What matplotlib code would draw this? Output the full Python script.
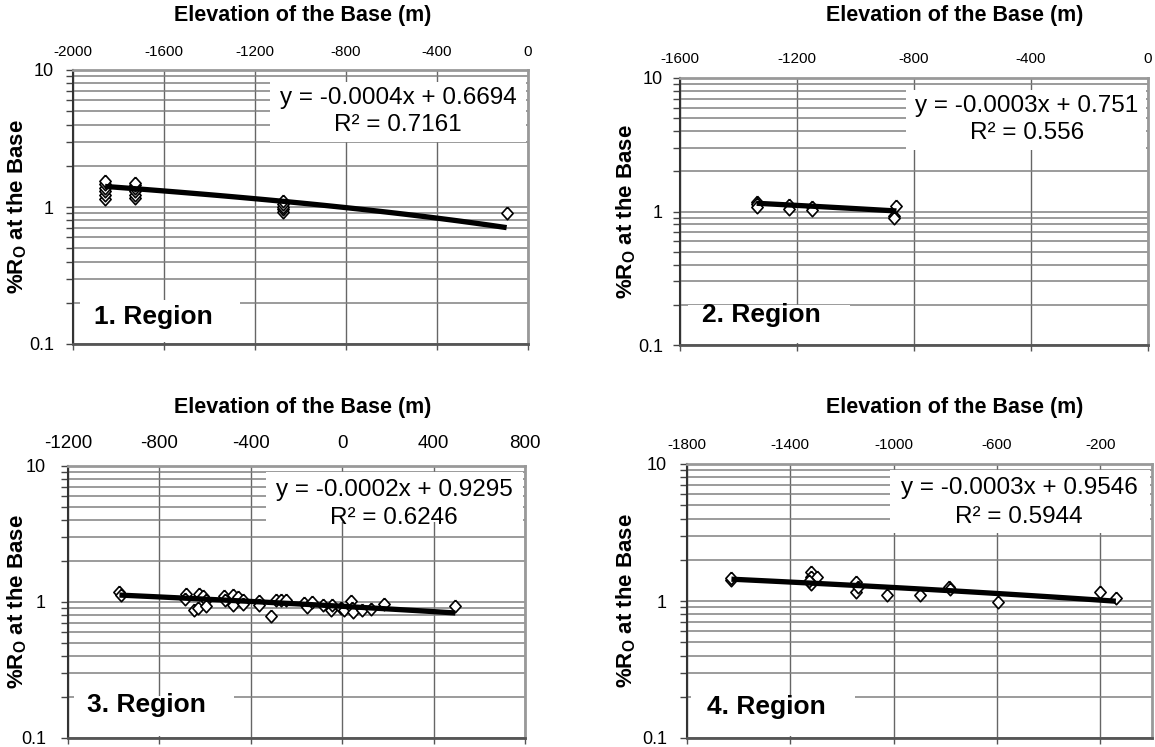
import numpy as np
import matplotlib
matplotlib.use("Agg")
import matplotlib.pyplot as plt
from matplotlib.patches import Rectangle
from matplotlib.ticker import FixedLocator, FixedFormatter, NullFormatter

plt.rcParams['font.family'] = ['Liberation Sans', 'DejaVu Sans']
plt.rcParams['mathtext.fontset'] = 'custom'
plt.rcParams['mathtext.rm'] = 'Liberation Sans'
plt.rcParams['mathtext.bf'] = 'Liberation Sans:bold'

# ---- data ----
r1_elev = [-1859, -1859, -1859, -1859, -1859, -1859,
           -1729, -1729, -1729, -1729, -1729, -1729,
           -1076, -1076, -1076, -1076, -1076, -94]
r1_ro = [1.15, 1.22, 1.30, 1.38, 1.47, 1.55,
         1.17, 1.23, 1.30, 1.37, 1.44, 1.50,
         0.92, 0.96, 1.00, 1.05, 1.10, 0.90]

r2_elev = [-1338, -1338, -1338, -1227, -1227, -1149, -1149, -868, -868, -860]
r2_ro = [1.18, 1.14, 1.09, 1.12, 1.05, 1.09, 1.03, 0.93, 0.90, 1.10]

r3_elev = [-975, -970, -684, -688, -650, -633, -625, -611, -596, -596,
           -519, -513, -480, -476, -458, -436, -436, -364, -364, -313,
           -291, -269, -247, -167, -153, -131, -83, -48, -44, -7,
           7, 39, 44, 48, 87, 127, 182, 495]
r3_ro = [1.18, 1.12, 1.15, 1.06, 0.88, 0.91, 1.15, 1.10, 1.03, 0.93,
         1.10, 1.04, 1.13, 0.945, 1.08, 1.04, 0.96, 1.02, 0.945, 0.785,
         1.03, 1.04, 1.03, 0.98, 0.92, 1.00, 0.945, 0.87, 0.945, 0.91,
         0.87, 1.02, 0.91, 0.845, 0.88, 0.89, 0.97, 0.935]

r4_elev = [-1628, -1628, -1319, -1319, -1319, -1298, -1326, -1147, -1147,
           -1140, -1025, -899, -785, -781, -595, -203, -140]
r4_ro = [1.42, 1.48, 1.62, 1.49, 1.33, 1.49, 1.41, 1.37, 1.16,
         1.26, 1.11, 1.11, 1.27, 1.22, 0.98, 1.16, 1.06]

# trendline equations as printed on the chart
slopes = [-0.0004, -0.0003, -0.0002, -0.0003]
intercepts = [0.6694, 0.751, 0.9295, 0.9546]
r_squared = [0.7161, 0.556, 0.6246, 0.5944]

xticks = [[-2000, -1600, -1200, -800, -400, 0],
          [-1600, -1200, -800, -400, 0],
          [-1200, -800, -400, 0, 400, 800],
          [-1800, -1400, -1000, -600, -200]]
xlims = [(-2000, 0), (-1600, 0), (-1200, 800), (-1800, 0)]
region_names = ["1. Region", "2. Region", "3. Region", "4. Region"]
yticks = [0.1, 1, 10]
ytick_labels = ["0.1", "1", "10"]

elevs = [r1_elev, r2_elev, r3_elev, r4_elev]
ros = [r1_ro, r2_ro, r3_ro, r4_ro]

# ---- layout in pixels ----
W, H = 1155, 747
fig = plt.figure(figsize=(W / 100, H / 100), dpi=100)


def fx(x):
    return x / W


def fy(y):
    return 1 - y / H


panels = [
    dict(ax=(73, 70, 528, 344), tfs=11, xpad=4, ypad=8.6, ylx=17, title=(303, 15),
         eqbox=(270, 82, 526, 142), eq=(398, 98, 125), regbox=(80, 300, 240, 342), reg=(94, 317)),
    dict(ax=(680, 78, 1148, 345), tfs=11, xpad=4.7, ypad=7.2, ylx=626, title=(955, 15),
         eqbox=(906, 90, 1146, 150), eq=(1027, 106, 133), regbox=(688, 305, 850, 343), reg=(702, 315)),
    dict(ax=(68, 466, 525, 738), tfs=13.5, xpad=6, ypad=10.8, ylx=17, title=(303, 408),
         eqbox=(266, 472, 523, 522), eq=(394, 490, 518), regbox=(74, 696, 234, 736), reg=(87, 705)),
    dict(ax=(687, 464, 1152, 738), tfs=11, xpad=4.7, ypad=9.4, ylx=626, title=(955, 408),
         eqbox=(890, 470, 1150, 533), eq=(1019, 488, 517), regbox=(691, 695, 855, 736), reg=(707, 707)),
]

diamond = [(0, 1), (0.9, 0), (0, -1), (-0.9, 0), (0, 1)]

for i, p in enumerate(panels):
    l, t, r, b = p['ax']
    ax = fig.add_axes([fx(l), fy(b), (r - l) / W, (b - t) / H])
    ax.set_yscale('log')
    ax.set_ylim(0.1, 10)
    ax.set_xlim(*xlims[i])
    ax.set_axisbelow(True)

    ax.yaxis.set_major_locator(FixedLocator(yticks))
    ax.yaxis.set_major_formatter(FixedFormatter(ytick_labels))
    ax.yaxis.set_minor_locator(FixedLocator(
        [m * d for d in (0.1, 1) for m in range(2, 10)]))
    ax.yaxis.set_minor_formatter(NullFormatter())
    ax.set_xticks(xticks[i])
    ax.set_xticklabels([str(v) for v in xticks[i]])

    ax.grid(True, which='both', axis='y', color='#808080', lw=1.1)
    ax.grid(True, which='major', axis='x', color='#666666', lw=1.0)

    ax.tick_params(axis='x', which='major', direction='out', length=4, width=1,
                   color='#555555', bottom=True, top=False,
                   labelbottom=False, labeltop=True, labelsize=p['tfs'], pad=p['xpad'])
    ax.tick_params(axis='y', which='both', direction='out', length=5, width=1,
                   color='#444444', labelsize=13, pad=p['ypad'])

    for side, c, w in [('top', '#999999', 2), ('right', '#999999', 2),
                       ('left', '#333333', 1.5), ('bottom', '#555555', 2)]:
        ax.spines[side].set_color(c)
        ax.spines[side].set_linewidth(w)

    # white boxes behind the annotations
    for bl, bt, br, bb in (p['eqbox'], p['regbox']):
        ax.add_patch(Rectangle((fx(bl), fy(bb)), (br - bl) / W, (bb - bt) / H,
                               transform=fig.transFigure, facecolor='white',
                               edgecolor='none', zorder=1))

    # data and trendline
    ax.plot(elevs[i], ros[i], linestyle='none', marker=diamond, markersize=9,
            markerfacecolor='white', markeredgecolor='black', markeredgewidth=1.2,
            zorder=3)
    xs = np.linspace(min(elevs[i]), max(elevs[i]), 60)
    ax.plot(xs, slopes[i] * xs + intercepts[i], color='black', lw=3.8,
            solid_capstyle='butt', zorder=4)

    ex, ey1, ey2 = p['eq']
    ax.text(fx(ex), fy(ey1), f"y = {slopes[i]}x + {intercepts[i]}", transform=fig.transFigure,
            ha='center', va='center', fontsize=17.5, zorder=5)
    ax.text(fx(ex), fy(ey2), f"R² = {r_squared[i]}", transform=fig.transFigure,
            ha='center', va='center', fontsize=17.5, zorder=5)
    rx, ry = p['reg']
    ax.text(fx(rx), fy(ry), region_names[i], transform=fig.transFigure,
            ha='left', va='center', fontsize=19, fontweight='bold', zorder=5)

    tx, ty = p['title']
    fig.text(fx(tx), fy(ty), "Elevation of the Base (m)", ha='center', va='center',
             fontsize=15.5, fontweight='bold')
    fig.text(fx(p['ylx']), fy((t + b) / 2), r"%R$_\mathbf{O}$ at the Base",
             rotation=90, ha='center', va='center', fontsize=16, fontweight='bold')

fig.savefig("out.png", dpi=100)
